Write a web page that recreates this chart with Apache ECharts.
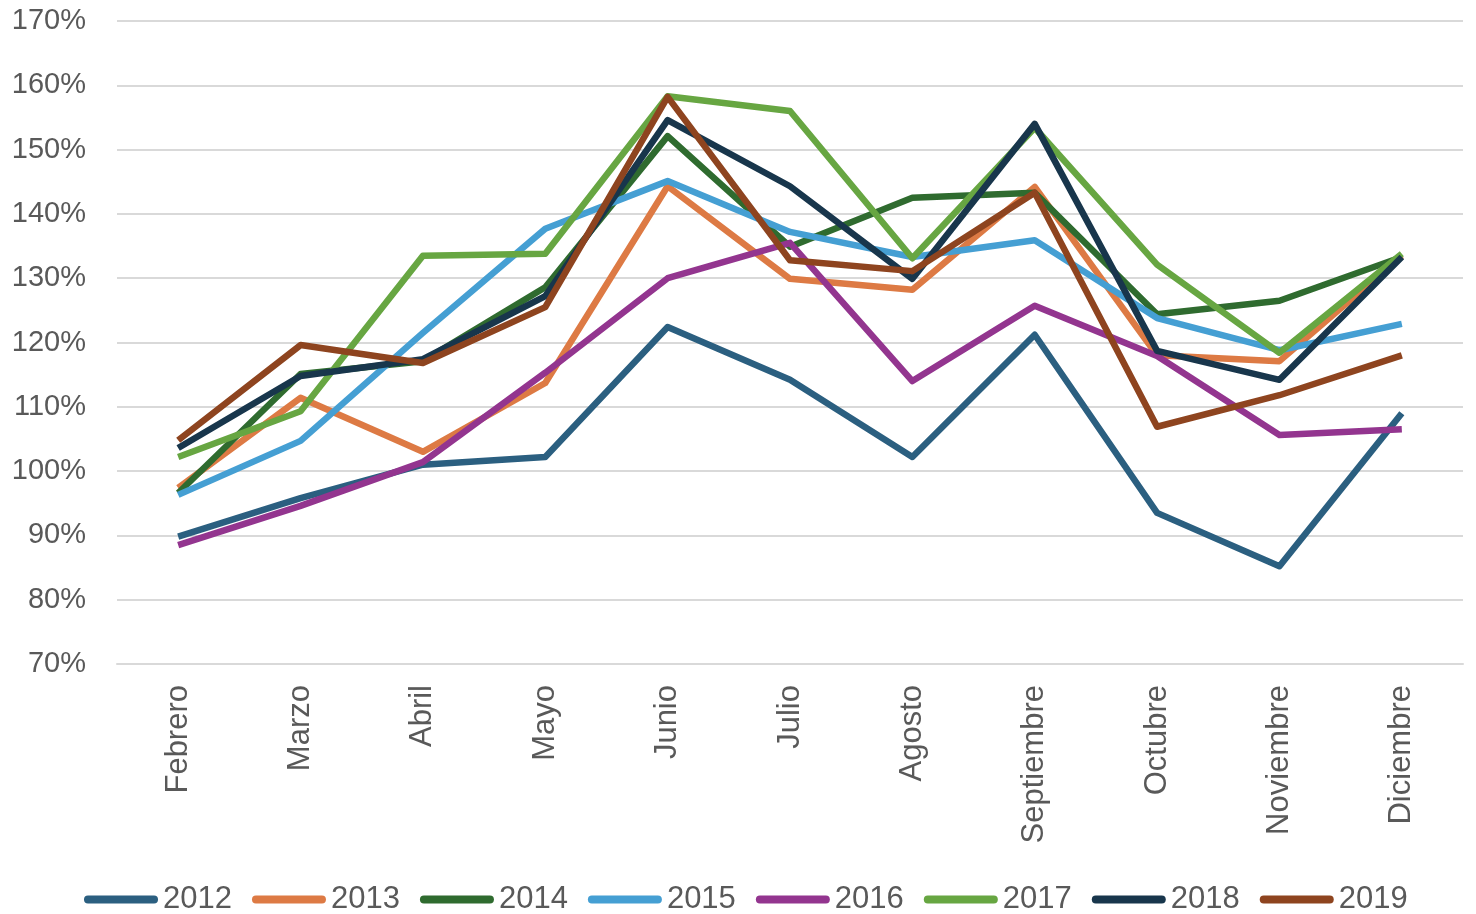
<!DOCTYPE html>
<html>
<head>
<meta charset="utf-8">
<script src="https://cdn.jsdelivr.net/npm/echarts@6/dist/echarts.min.js"></script>
<style>html,body{margin:0;padding:0;background:#fff}#c{width:1476px;height:914px}</style>
</head>
<body>
<div id="c"></div>
<script>
const categories = ['Febrero','Marzo','Abril','Mayo','Junio','Julio','Agosto','Septiembre','Octubre','Noviembre','Diciembre'];
const years = ['2012','2013','2014','2015','2016','2017','2018','2019'];
const s2012 = [89.8, 95.8, 101.0, 102.2, 122.4, 114.2, 102.2, 121.2, 93.5, 85.2, 109.0];
const s2013 = [97.4, 111.4, 103.0, 113.7, 144.3, 129.9, 128.2, 144.2, 118.0, 117.1, 133.5];
const s2014 = [96.6, 115.1, 117.1, 128.6, 152.1, 134.9, 142.5, 143.3, 124.4, 126.5, 133.3];
const s2015 = [96.3, 104.7, 121.5, 137.7, 145.1, 137.2, 133.3, 135.9, 123.8, 118.8, 122.9];
const s2016 = [88.5, 94.6, 101.4, 115.3, 130.0, 135.5, 114.0, 125.7, 117.9, 105.6, 106.5];
const s2017 = [102.2, 109.3, 133.5, 133.8, 158.3, 156.0, 133.1, 153.4, 132.1, 118.4, 133.8];
const s2018 = [103.6, 114.8, 117.4, 127.2, 154.6, 144.3, 129.9, 154.0, 118.7, 114.2, 133.3];
const s2019 = [104.8, 119.6, 116.8, 125.5, 158.2, 132.8, 131.1, 143.3, 106.9, 111.8, 118.0];
const seriesData = [s2012, s2013, s2014, s2015, s2016, s2017, s2018, s2019];
const colors = ['#2B5F80','#DD7A44','#2F6B2F','#459FD3','#93358F','#67A642','#18364C','#8E441F'];

const chart = echarts.init(document.getElementById('c'));
chart.setOption({
  animation: false,
  color: colors,
  textStyle: { fontFamily: '"Liberation Sans", Arial, sans-serif' },
  grid: { left: 117, right: 13, top: 21, bottom: 250, containLabel: false },
  legend: {
    top: 884,
    left: 84,
    padding: 0,
    itemWidth: 74,
    itemHeight: 8,
    itemGap: 20,
    icon: 'path://M4,0 L70,0 A4,4 0 0 1 70,8 L4,8 A4,4 0 0 1 4,0 Z',
    textStyle: { fontSize: 31, color: '#595959' },
    data: years
  },
  xAxis: {
    type: 'category',
    data: categories,
    boundaryGap: true,
    axisLine: { show: true, lineStyle: { color: '#d9d9d9', width: 2 } },
    axisTick: { show: false },
    axisLabel: { rotate: 90, fontSize: 31, color: '#595959', margin: 21 }
  },
  yAxis: {
    type: 'value',
    min: 70,
    max: 170,
    interval: 10,
    axisLine: { show: false },
    axisTick: { show: false },
    axisLabel: { formatter: v => v + '%', fontSize: 29, color: '#595959', margin: 31 },
    splitLine: { lineStyle: { color: '#d9d9d9', width: 2 } }
  },
  series: years.map((y, i) => ({
    name: y,
    type: 'line',
    data: seriesData[i],
    symbol: 'none',
    lineStyle: { width: 6.5, color: colors[i], join: 'round' },
    itemStyle: { color: colors[i] }
  }))
});
</script>
</body>
</html>
